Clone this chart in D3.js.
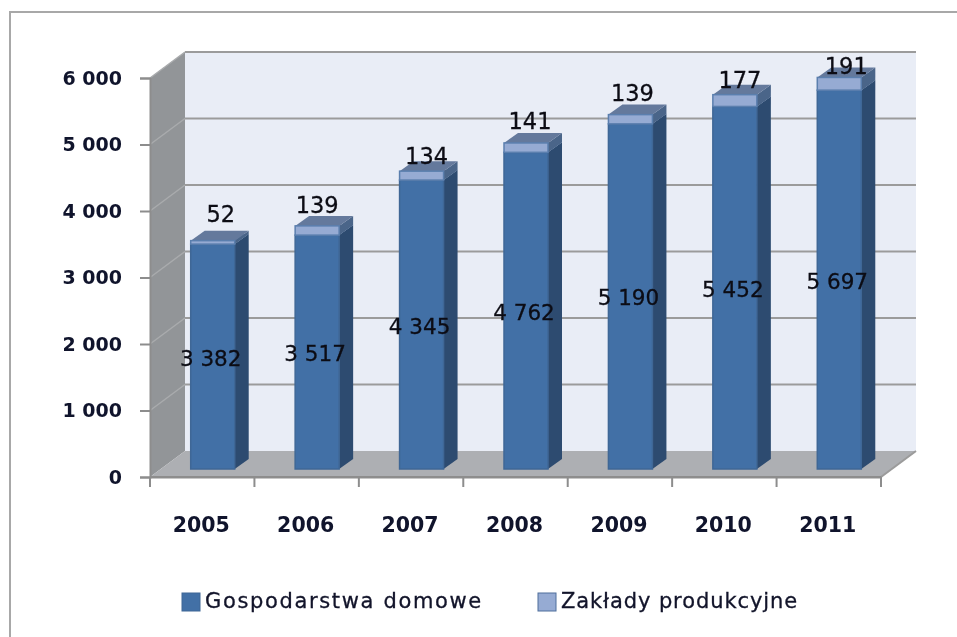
<!DOCTYPE html>
<html><head><meta charset="utf-8">
<script src="https://cdn.jsdelivr.net/npm/d3@7/dist/d3.min.js"></script>
<style>html,body{margin:0;padding:0;background:#fff}svg{display:block;filter:blur(0.6px)}</style>
</head><body><div id="c"></div>
<script>
const years = ["2005","2006","2007","2008","2009","2010","2011"];
const households = [3382,3517,4345,4762,5190,5452,5697];
const plants = [52,139,134,141,139,177,191];
const yTicks = [0,1000,2000,3000,4000,5000,6000];
const householdLabels = ["3 382","3 517","4 345","4 762","5 190","5 452","5 697"];
const plantOffsets = [[8,-25],[0,-19],[5,-14],[4,-20],[2,-20],[5,-13],[7,-10]];
const seriesNames = ["Gospodarstwa domowe","Zakłady produkcyjne"];

const W=957,H=637;
const x0=150,x1=881,y0=477,y6=78,DX=35,DY=-26,bw=44,bdx=14,bdy=-10;
const svg=d3.select("#c").append("svg").attr("width",W).attr("height",H);
const x=d3.scaleBand().domain(years).range([x0,x1]);
const y=d3.scaleLinear().domain([0,6000]).range([y0,y6]);
const FONT="'DejaVu Sans',sans-serif";
const poly=(pts,fill,stroke)=>svg.append("polygon").attr("points",pts.map(p=>p.join(",")).join(" ")).attr("fill",fill).attr("stroke",stroke||"none").attr("stroke-width",stroke?1:0);

svg.append("rect").attr("x",10).attr("y",12).attr("width",W).attr("height",H).attr("fill","#fff").attr("stroke","#a8a8a8").attr("stroke-width",2);

// walls
poly([[x0+DX,y6+DY],[x1+DX,y6+DY],[x1+DX,y0+DY],[x0+DX,y0+DY]],"#e9edf6");
poly([[x0,y6],[x0+DX,y6+DY],[x0+DX,y0+DY],[x0,y0]],"#929598");
poly([[x0,y0],[x0+DX,y0+DY],[x1+DX,y0+DY],[x1,y0]],"#adafb3");
// gridlines
yTicks.forEach(t=>{
  if(t>0) svg.append("line").attr("x1",x0+DX).attr("x2",x1+DX).attr("y1",y(t)+DY).attr("y2",y(t)+DY).attr("stroke","#9b9b9b").attr("stroke-width",2);
  if(t>0) svg.append("line").attr("x1",x0).attr("x2",x0+DX).attr("y1",y(t)).attr("y2",y(t)+DY).attr("stroke","#a9abad").attr("stroke-width",1.5);
});
svg.append("line").attr("x1",x1).attr("x2",x1+DX).attr("y1",y0).attr("y2",y0+DY).attr("stroke","#9b9b9b").attr("stroke-width",2);

// axes
const axY=svg.append("g").attr("transform",`translate(${x0},0)`).call(d3.axisLeft(y).tickValues(yTicks).tickSize(10).tickPadding(18).tickFormat(d=>d===0?"0":d3.format(",")(d).replace(","," ")));
const xEdges=d3.range(years.length+1).map(i=>x0+i*x.step());
const axX=svg.append("g").attr("transform",`translate(0,${y0})`).call(d3.axisBottom(x).tickSize(0).tickPadding(40));
axX.selectAll(".tick text").attr("dx",-1);
xEdges.forEach(e=>axX.append("line").attr("x1",e).attr("x2",e).attr("y1",0).attr("y2",10).attr("stroke","#8d8d8d").attr("stroke-width",2));
[axY,axX].forEach(a=>{a.selectAll(".domain").attr("stroke","#8d8d8d").attr("stroke-width",2);a.selectAll(".tick line").attr("stroke","#8d8d8d").attr("stroke-width",2);
 a.selectAll("text").attr("font-family",FONT).attr("font-weight",700).attr("fill","#10142c").attr("font-size",19);});
axX.selectAll(".tick text").attr("font-size",20.5);
axX.append("line").attr("x1",x0).attr("x2",x1).attr("y1",0).attr("y2",0).attr("stroke","#8d8d8d").attr("stroke-width",2);

// bars
const off=(DX-bdx)/2, voff=(-DY+bdy)/2;
const box=(l,top,bot,cf,ct,cs,edge)=>{
  poly([[l+bw,top],[l+bw+bdx,top+bdy],[l+bw+bdx,bot+bdy],[l+bw,bot]],cs);
  poly([[l,top],[l+bdx,top+bdy],[l+bw+bdx,top+bdy],[l+bw,top]],ct);
  svg.append("rect").attr("x",l).attr("y",top).attr("width",bw).attr("height",bot-top).attr("fill",cf).attr("stroke",edge).attr("stroke-width",1.5);
};
years.forEach((yr,i)=>{
  const l=x(yr)+(x.bandwidth()-bw)/2+off;
  const a=y(households[i])-voff, b=y(households[i]+plants[i])-voff, z=y(0)-voff;
  box(l,a,z,"#4270a6","#5d7ba3","#2d4b70","#3f6796");
  box(l,b,a,"#96abd3","#64799c","#4a6589","#5b7fae");
  svg.append("text").attr("x",l+bw/2-2).attr("y",(a+z)/2+3).attr("text-anchor","middle").attr("dominant-baseline","middle")
    .attr("font-family",FONT).attr("font-size",21.5).attr("stroke","#0c0c14").attr("stroke-width",0.3).attr("fill","#0c0c14").text(householdLabels[i]);
  svg.append("text").attr("x",l+bw/2+plantOffsets[i][0]).attr("y",b+plantOffsets[i][1]).attr("text-anchor","middle").attr("dominant-baseline","middle")
    .attr("font-family",FONT).attr("font-size",22.5).attr("stroke","#0c0c14").attr("stroke-width",0.3).attr("fill","#0c0c14").text(plants[i]);
});

// legend
const lg=[{x:182,t:seriesNames[0],c:"#4270a6",e:"#3f6796",s:1.65},{x:538,t:seriesNames[1],c:"#96abd3",e:"#4f6f9c",s:0.9}];
lg.forEach(d=>{
  svg.append("rect").attr("x",d.x).attr("y",593).attr("width",18).attr("height",18).attr("fill",d.c).attr("stroke",d.e);
  svg.append("text").attr("x",d.x+23).attr("y",602).attr("dominant-baseline","middle").attr("font-family",FONT).attr("font-size",21).attr("letter-spacing",d.s).attr("stroke","#12142a").attr("stroke-width",0.3).attr("fill","#12142a").text(d.t);
});
</script></body></html>
